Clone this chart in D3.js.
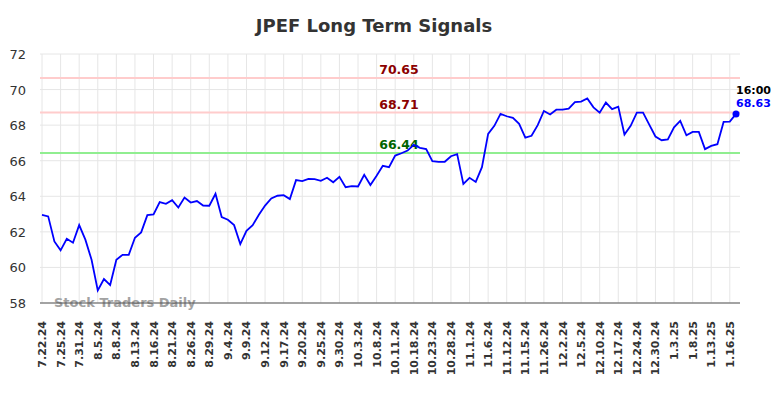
<!DOCTYPE html>
<html>
<head>
<meta charset="utf-8">
<script src="https://cdn.jsdelivr.net/npm/d3@7"></script>
<style>
  body { margin: 0; background: #fff; }
  text { font-family: "DejaVu Sans", sans-serif; }
</style>
</head>
<body>
<div id="chart"></div>
<script>
// tick labels, one every 3 points
const tickLabels = ["7.22.24","7.25.24","7.31.24","8.5.24","8.8.24","8.13.24","8.16.24","8.21.24",
  "8.26.24","8.29.24","9.4.24","9.9.24","9.12.24","9.17.24","9.20.24","9.25.24","9.30.24","10.3.24",
  "10.8.24","10.11.24","10.18.24","10.23.24","10.28.24","11.1.24","11.6.24","11.12.24","11.15.24",
  "11.26.24","12.2.24","12.5.24","12.10.24","12.17.24","12.24.24","12.30.24","1.3.25","1.8.25",
  "1.13.25","1.16.25"];

const prices = [
  62.95, 62.87, 61.46, 60.96, 61.61, 61.39, 62.38, 61.56, 60.43, 58.71,
  59.35, 59.01, 60.43, 60.71, 60.71, 61.67, 61.97, 62.94, 62.98, 63.67,
  63.58, 63.78, 63.37, 63.93, 63.65, 63.73, 63.48, 63.47, 64.14, 62.83,
  62.68, 62.38, 61.31, 62.06, 62.38, 62.96, 63.48, 63.88, 64.03, 64.06,
  63.84, 64.91, 64.85, 64.98, 64.96, 64.87, 65.04, 64.79, 65.09, 64.51,
  64.57, 64.55, 65.21, 64.63, 65.15, 65.71, 65.64, 66.29, 66.42, 66.57,
  66.89, 66.72, 66.65, 65.97, 65.94, 65.94, 66.25, 66.37, 64.70, 65.04,
  64.81, 65.64, 67.51, 67.96, 68.63, 68.50, 68.41, 68.07, 67.30, 67.40,
  68.00, 68.80, 68.60, 68.87, 68.87, 68.93, 69.30, 69.32, 69.50, 69.00,
  68.70, 69.27, 68.90, 69.04, 67.47, 67.96, 68.70, 68.70, 68.03, 67.36,
  67.15, 67.20, 67.88, 68.24, 67.43, 67.62, 67.62, 66.65, 66.83, 66.93,
  68.18, 68.20, 68.63
];

const signalValues = [70.65, 68.71, 66.44];
const signalColors = ["#ffcccc", "#ffcccc", "#90ee90"];
const signalTextColors = ["#8b0000", "#8b0000", "#006400"];
const yTicks = [58, 60, 62, 64, 66, 68, 70, 72];
const lastTime = "16:00";

const width = 784, height = 398;
const plot = {left: 40, right: 740, top: 54, bottom: 303};

const svg = d3.select("#chart").append("svg")
    .attr("width", width)
    .attr("height", height);

let x = d3.scaleLinear()
    .domain([0, prices.length - 1])
    .range([42, 736]);

let y = d3.scaleLinear()
    .domain([58, 72])
    .range([plot.bottom, plot.top]);

// horizontal grid
svg.append("g").selectAll("line").data(yTicks).enter()
    .append("line")
    .attr("x1", plot.left).attr("x2", plot.right)
    .attr("y1", d => y(d)).attr("y2", d => y(d))
    .attr("stroke", "#e6e6e6").attr("stroke-width", 1);

// vertical grid at each label
svg.append("g").selectAll("line").data(tickLabels).enter()
    .append("line")
    .attr("x1", (d, i) => x(i * 3)).attr("x2", (d, i) => x(i * 3))
    .attr("y1", plot.top).attr("y2", plot.bottom)
    .attr("stroke", "#e6e6e6").attr("stroke-width", 1);

// y tick labels
svg.append("g").selectAll("text").data(yTicks).enter()
    .append("text")
    .attr("x", 26)
    .attr("y", d => y(d) + 5)
    .attr("text-anchor", "end")
    .style("font-size", "13px")
    .style("fill", "#333")
    .text(d => d);

// x tick labels, rotated
svg.append("g").selectAll("text").data(tickLabels).enter()
    .append("text")
    .attr("transform", (d, i) => `translate(${x(i * 3) + 4}, 321) rotate(-90)`)
    .attr("text-anchor", "end")
    .style("font-size", "11px")
    .style("font-weight", "bold")
    .style("fill", "#333")
    .text(d => d);

// signal lines
svg.append("g").selectAll("line").data(signalValues).enter()
    .append("line")
    .attr("x1", plot.left).attr("x2", plot.right)
    .attr("y1", d => y(d)).attr("y2", d => y(d))
    .attr("stroke", (d, i) => signalColors[i])
    .attr("stroke-width", 2);

svg.append("g").selectAll("text").data(signalValues).enter()
    .append("text")
    .attr("x", 399)
    .attr("y", d => y(d) - 4)
    .attr("text-anchor", "middle")
    .style("font-size", "12.5px")
    .style("font-weight", "bold")
    .style("fill", (d, i) => signalTextColors[i])
    .text(d => d.toFixed(2));

// watermark
svg.append("text")
    .attr("x", 54)
    .attr("y", 307)
    .style("font-size", "13px")
    .style("font-weight", "bold")
    .style("fill", "#999")
    .style("opacity", 0.9)
    .text("Stock Traders Daily");

// bottom axis line
svg.append("line")
    .attr("x1", plot.left).attr("x2", plot.right)
    .attr("y1", plot.bottom).attr("y2", plot.bottom)
    .attr("stroke", "#555").attr("stroke-width", 1.2);

// price line
let line = d3.line()
    .x((d, i) => x(i))
    .y(d => y(d));

svg.append("path")
    .datum(prices)
    .attr("d", line)
    .attr("fill", "none")
    .attr("stroke", "#0000ff")
    .attr("stroke-width", 1.8);

let lastIdx = prices.length - 1;
svg.append("circle")
    .attr("cx", x(lastIdx))
    .attr("cy", y(prices[lastIdx]))
    .attr("r", 3.5)
    .attr("fill", "#0000ff");

svg.append("text")
    .attr("x", 736)
    .attr("y", 94)
    .style("font-size", "11px")
    .style("font-weight", "bold")
    .style("fill", "#000")
    .text(lastTime);

svg.append("text")
    .attr("x", 736)
    .attr("y", 107)
    .style("font-size", "11px")
    .style("font-weight", "bold")
    .style("fill", "#0000ff")
    .text(prices[lastIdx].toFixed(2));

// title
svg.append("text")
    .attr("x", 374)
    .attr("y", 32)
    .attr("text-anchor", "middle")
    .style("font-size", "18px")
    .style("font-weight", "bold")
    .style("fill", "#333")
    .text("JPEF Long Term Signals");
</script>
</body>
</html>
